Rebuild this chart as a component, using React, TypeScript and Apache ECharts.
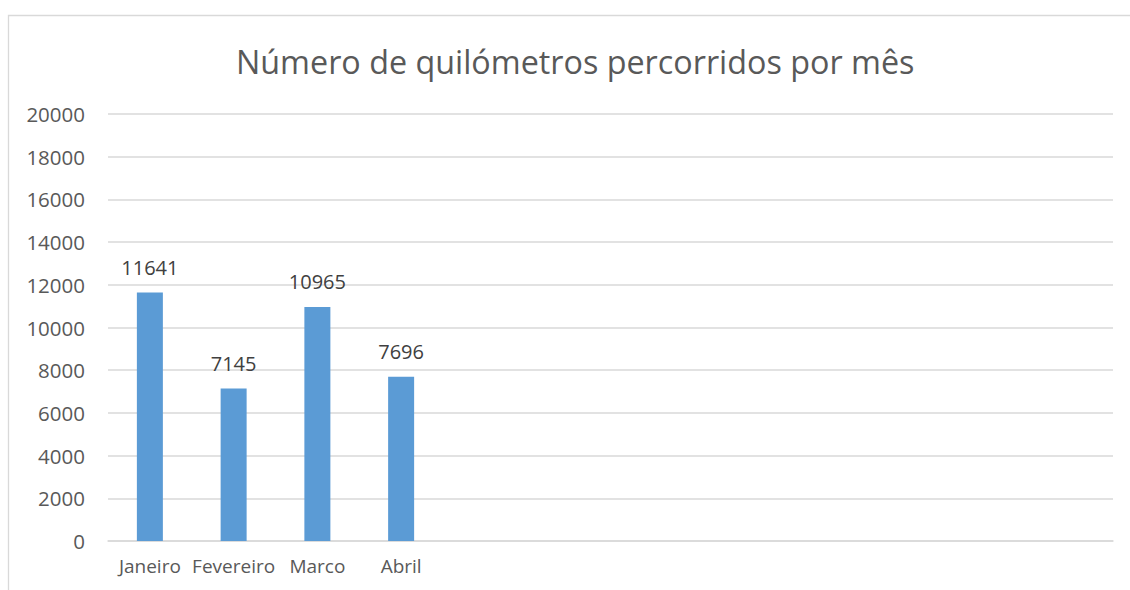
import React, { useEffect, useRef } from "react";
import * as echarts from "echarts";

const titleText = "Número de quilómetros percorridos por mês";
const categories = ["Janeiro", "Fevereiro", "Marco", "Abril", "", "", "", "", "", "", "", ""];
const values = [11641, 7145, 10965, 7696];
const yMin = 0;
const yMax = 20000;
const yInterval = 2000;

export default function App() {
  const ref = useRef<HTMLDivElement>(null);
  useEffect(() => {
    if (!ref.current) return;
    const chart = echarts.init(ref.current, null, { renderer: "svg" });
    chart.setOption({
      animation: false,
      backgroundColor: "#ffffff",
      textStyle: { fontFamily: "Open Sans" },
      title: {
        text: titleText,
        left: 231,
        top: 40,
        textStyle: { fontFamily: "Open Sans", fontSize: 32.3, fontWeight: "normal", color: "#595959" },
      },
      graphic: [
        {
          type: "rect",
          shape: { x: 8.5, y: 15.5, width: 1200, height: 700 },
          style: { fill: "none", stroke: "#d9d9d9", lineWidth: 1.3 },
          silent: true,
        },
      ],
      grid: { left: 108, right: 17, top: 114, bottom: 49, containLabel: false },
      xAxis: {
        type: "category",
        data: categories,
        axisLine: { show: true, lineStyle: { color: "#d9d9d9", width: 1.5 } },
        axisTick: { show: false },
        axisLabel: { color: "#595959", fontSize: 19, margin: 15, interval: 0, fontFamily: "Open Sans" },
      },
      yAxis: {
        type: "value",
        min: yMin,
        max: yMax,
        interval: yInterval,
        axisLine: { show: false },
        axisTick: { show: false },
        axisLabel: {
          color: "#595959",
          fontSize: 20.5,
          margin: 23,
          fontFamily: "Open Sans",
          formatter: (v: number) => String(v),
        },
        splitLine: { lineStyle: { color: "#d9d9d9", width: 1.5 } },
      },
      series: [
        {
          type: "bar",
          data: values,
          barWidth: 26,
          itemStyle: { color: "#5b9bd5" },
          label: {
            show: true,
            position: "top",
            distance: 15,
            color: "#404040",
            fontSize: 20,
            fontFamily: "Open Sans",
          },
        },
      ],
    });
    return () => chart.dispose();
  }, []);
  return (
    <div
      ref={ref}
      style={{ position: "fixed", left: 0, top: 0, width: 1130, height: 590 }}
    />
  );
}
